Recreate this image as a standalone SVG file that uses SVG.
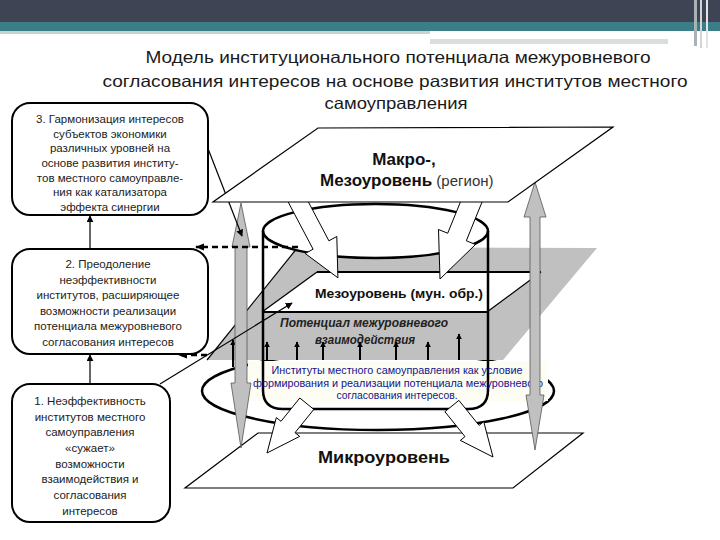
<svg xmlns="http://www.w3.org/2000/svg" width="720" height="540" viewBox="0 0 720 540">
<defs>
<style>
.box{fill:#fff;stroke:#000;stroke-width:2}
.bt{font-family:"Liberation Sans",Arial,sans-serif;font-size:11.5px;fill:#222;text-anchor:middle}
.ln{stroke:#000;stroke-width:1.2;fill:none}
.dash{stroke:#000;stroke-width:2.5;stroke-dasharray:6 4;fill:none}
.plane{fill:#fff;stroke:#000;stroke-width:1.2}
.garr{fill:#c0c0c0;stroke:#555;stroke-width:0.8}
.warr{fill:#fff;stroke:#000;stroke-width:1}
.up{stroke:#000;stroke-width:2;fill:none}
.title{font-family:"Liberation Sans",Arial,sans-serif;font-size:16.5px;fill:#1a1a1a;text-anchor:middle}
</style>
<marker id="ah" viewBox="0 0 10 10" refX="9" refY="5" markerWidth="7" markerHeight="7" orient="auto" markerUnits="userSpaceOnUse">
<path d="M0,0 L10,5 L0,10 Z" fill="#000"/>
</marker>
<marker id="ahs" viewBox="0 0 10 10" refX="9" refY="5" markerWidth="6" markerHeight="6" orient="auto" markerUnits="userSpaceOnUse">
<path d="M0,0 L10,5 L0,10 Z" fill="#000"/>
</marker>
<marker id="ahd" viewBox="0 0 10 10" refX="9" refY="5" markerWidth="9" markerHeight="9" orient="auto" markerUnits="userSpaceOnUse">
<path d="M0,1 L10,5 L0,9 Z" fill="#000"/>
</marker>
</defs>

<g id="header">
<rect x="0" y="0" width="720" height="22" fill="#3f4454"/>
<rect x="0" y="22" width="720" height="9" fill="#3c7e88"/>
<rect x="0" y="31" width="430" height="3" fill="#c8d2d4"/>
<rect x="430" y="39" width="238" height="5" fill="#d8dede"/>
<rect x="694" y="0" width="3" height="46" fill="#a9b3b5"/>
<rect x="700" y="0" width="2" height="48" fill="#d0d6d6"/>
<rect x="706" y="0" width="2" height="48" fill="#e0e4e4"/>
</g>

<g id="title">
<text class="title" x="398" y="63" textLength="505" lengthAdjust="spacingAndGlyphs">Модель институционального потенциала межуровневого</text>
<text class="title" x="395" y="87" textLength="585" lengthAdjust="spacingAndGlyphs">согласования интересов на основе развития институтов местного</text>
<text class="title" x="396" y="109" textLength="143" lengthAdjust="spacingAndGlyphs">самоуправления</text>
</g>

<g id="micro-plane">
<polygon class="plane" points="258,433 583,433 513,488 185,488"/>
<text x="384" y="463" font-family="Liberation Sans,Arial,sans-serif" font-size="17" font-weight="bold" text-anchor="middle" fill="#111" textLength="132" lengthAdjust="spacingAndGlyphs">Микроуровень</text>
</g>

<g id="institutions-ring">
<ellipse cx="378" cy="391" rx="176" ry="39" fill="#fff" stroke="#000" stroke-width="2.5"/>
</g>

<g id="gray-plane">
<polygon points="298,247 597,248 503,360 207,360" fill="#c0c0c0"/>
<line x1="298" y1="247" x2="207" y2="360" class="ln"/>
</g>

<g id="meso-mun">
<polygon points="317,272 541,272 487,312 262,312" fill="#fff" stroke="none"/>
<line x1="317" y1="272" x2="541" y2="272" stroke="#000" stroke-width="2"/>
<line x1="262" y1="312" x2="487" y2="312" stroke="#000" stroke-width="2"/>
<line x1="317" y1="272" x2="262" y2="312" class="ln"/>
<line x1="541" y1="272" x2="487" y2="312" class="ln"/>
<text x="399" y="298" font-family="Liberation Sans,Arial,sans-serif" font-size="13" font-weight="bold" text-anchor="middle" fill="#111" textLength="168" lengthAdjust="spacingAndGlyphs">Мезоуровень (мун. обр.)</text>
</g>

<g id="institutions-text-bg">
<rect x="248" y="361" width="300" height="40" fill="#fdfdf4"/>
</g>

<g id="cylinder">
<ellipse cx="375.5" cy="231" rx="112.5" ry="27" fill="#fff" stroke="#000" stroke-width="2.5"/>
<path d="M263,231 L263,390 Q263,409 283,409 L468,409 Q488,409 488,390 L488,231" fill="none" stroke="#000" stroke-width="2.5"/>
</g>

<g id="potential">
<text x="364" y="327" font-family="Liberation Sans,Arial,sans-serif" font-size="12.5" font-weight="bold" font-style="italic" text-anchor="middle" fill="#222" textLength="168" lengthAdjust="spacingAndGlyphs">Потенциал межуровневого</text>
<text x="365" y="344" font-family="Liberation Sans,Arial,sans-serif" font-size="12.5" font-weight="bold" font-style="italic" text-anchor="middle" fill="#222" textLength="100" lengthAdjust="spacingAndGlyphs">взаимодействия</text>
</g>

<g id="institutions-text" font-family="Liberation Sans,Arial,sans-serif" font-size="10" fill="#14148c" text-anchor="middle">
<text x="397" y="374" textLength="251" lengthAdjust="spacingAndGlyphs">Институты местного самоуправления как условие</text>
<text x="398" y="387" textLength="290" lengthAdjust="spacingAndGlyphs">формирования и реализации потенциала межуровневого</text>
<text x="397" y="399" textLength="121" lengthAdjust="spacingAndGlyphs">согласования интересов.</text>
</g>

<g id="connectors">
<line class="up" x1="233" y1="367" x2="233" y2="340" marker-end="url(#ahs)" stroke-width="2.5"/>
<line class="up" x1="267" y1="360" x2="267" y2="342" marker-end="url(#ahs)"/>
<line class="up" x1="297" y1="360" x2="297" y2="342" marker-end="url(#ahs)"/>
<line class="up" x1="323" y1="360" x2="323" y2="342" marker-end="url(#ahs)"/>
<line class="up" x1="360" y1="360" x2="360" y2="342" marker-end="url(#ahs)"/>
<line class="up" x1="396" y1="360" x2="396" y2="342" marker-end="url(#ahs)"/>
<line class="up" x1="428" y1="360" x2="428" y2="342" marker-end="url(#ahs)"/>
<line class="up" x1="459" y1="360" x2="459" y2="334" marker-end="url(#ahs)"/>

<path class="garr" d="M241,203 L250,247 L247,247 L247,383 L251,383 L241,448 L231,383 L235,383 L235,247 L232,247 Z"/>
<path class="garr" d="M535,182 L546,217 L540,217 L540,395 L544,395 L535,450 L526,395 L530,395 L530,217 L524,217 Z"/>

<polygon class="warr" points="300.9,187.8 328.9,240.8 336.8,236.5 337.9,277.8 305.2,253.5 313.1,249.2 285.1,196.2"/>
<polygon class="warr" points="485.1,194.5 466.3,240.75 475.5,244.5 440,279 438.5,229.5 447.7,233.25 466.5,186.95"/>
<polygon class="warr" points="313.8,409.4 295,432.7 299.7,436.4 267,453 276.3,417.6 281,421.3 299.8,398"/>
<polygon class="warr" points="458.9,400.4 479.1,425.4 483.7,421.6 493,457 460.3,440.4 465,436.6 444.9,411.7"/>

<line class="dash" x1="298" y1="247" x2="196" y2="247" marker-end="url(#ahd)"/>
<line class="dash" x1="207" y1="355" x2="179" y2="355" marker-end="url(#ahd)"/>

<line class="ln" x1="90" y1="384" x2="90" y2="355" marker-end="url(#ah)" stroke-width="2"/>
<line class="ln" x1="90" y1="249" x2="90" y2="216" marker-end="url(#ah)" stroke-width="2"/>
<line class="ln" x1="160" y1="384" x2="292" y2="303" marker-end="url(#ah)"/>
<line class="ln" x1="207" y1="146" x2="242" y2="236" marker-end="url(#ah)"/>
</g>

<g id="macro-plane">
<polygon class="plane" points="318,128 613,127 508,202 213,202"/>
<text x="404" y="165" font-family="Liberation Sans,Arial,sans-serif" font-size="17" font-weight="bold" text-anchor="middle" fill="#111">Макро-,</text>
<text x="320" y="186" font-family="Liberation Sans,Arial,sans-serif" font-size="17" fill="#111"><tspan font-weight="bold">Мезоуровень</tspan><tspan font-size="15" fill="#333"> (регион)</tspan></text>
</g>

<g id="box3">
<rect class="box" x="12" y="103" width="196" height="112" rx="18"/>
<text class="bt" x="110" y="123">3. Гармонизация интересов</text>
<text class="bt" x="110" y="138">субъектов экономики</text>
<text class="bt" x="110" y="152">различных уровней на</text>
<text class="bt" x="110" y="167">основе развития институ-</text>
<text class="bt" x="110" y="182">тов местного самоуправле-</text>
<text class="bt" x="110" y="196">ния как катализатора</text>
<text class="bt" x="110" y="211">эффекта синергии</text>
</g>

<g id="box2">
<rect class="box" x="12" y="249" width="196" height="105" rx="18"/>
<text class="bt" x="108" y="268">2. Преодоление</text>
<text class="bt" x="108" y="284">неэффективности</text>
<text class="bt" x="108" y="299">институтов, расширяющее</text>
<text class="bt" x="108" y="315">возможности реализации</text>
<text class="bt" x="108" y="330">потенциала межуровневого</text>
<text class="bt" x="108" y="346">согласования интересов</text>
</g>

<g id="box1">
<rect class="box" x="12" y="384" width="158" height="138" rx="18"/>
<text class="bt" x="90" y="405">1. Неэффективность</text>
<text class="bt" x="90" y="421">институтов местного</text>
<text class="bt" x="90" y="436">самоуправления</text>
<text class="bt" x="90" y="452">«сужает»</text>
<text class="bt" x="90" y="468">возможности</text>
<text class="bt" x="90" y="483">взаимодействия и</text>
<text class="bt" x="90" y="499">согласования</text>
<text class="bt" x="90" y="515">интересов</text>
</g>
</svg>
